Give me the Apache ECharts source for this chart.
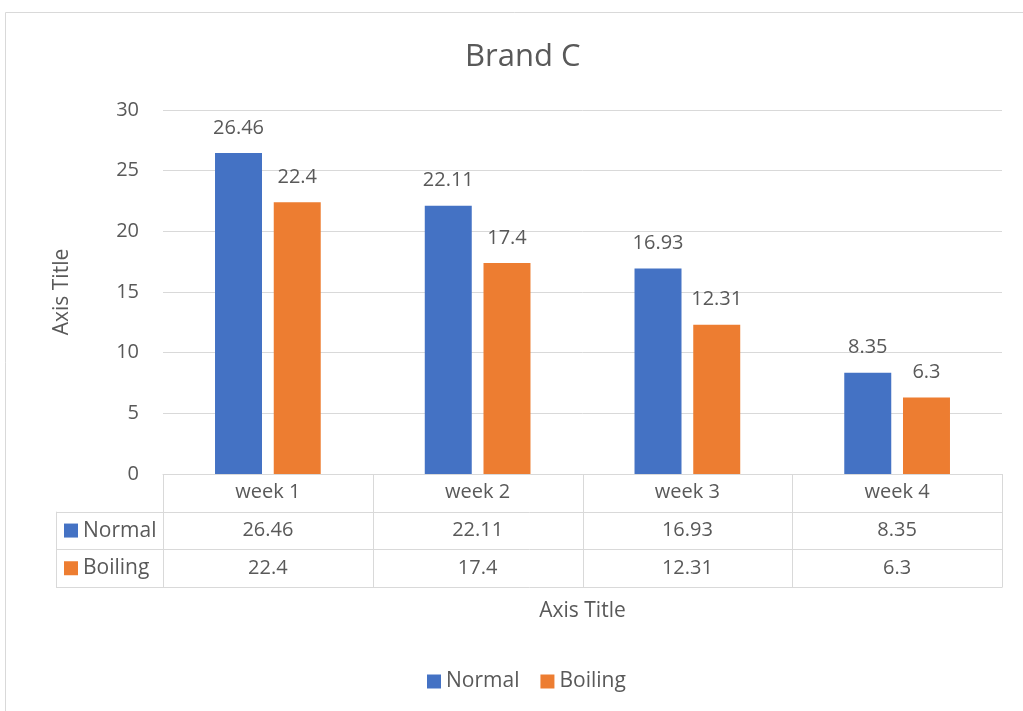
<!DOCTYPE html>
<html>
<head>
<meta charset="utf-8">
<script src="https://cdn.jsdelivr.net/npm/echarts@6/dist/echarts.min.js"></script>
<style>
  html, body { margin: 0; padding: 0; background: #fff; }
  #chart { width: 1023px; height: 711px; }
</style>
</head>
<body>
<div id="chart"></div>
<script>
// Weekly measurements for Brand C
const categories = ['week 1', 'week 2', 'week 3', 'week 4'];
const normalValues = [26.46, 22.11, 16.93, 8.35];
const boilingValues = [22.4, 17.4, 12.31, 6.3];
const seriesNames = ['Normal', 'Boiling'];
const yTicks = [0, 5, 10, 15, 20, 25, 30];

const FONT = '"Open Sans", "Noto Sans", sans-serif';
const FS_TEXT = 21;   // words: axis titles, legend, table headers
const FS_NUM = 20;    // numbers: ticks, value labels, table cells
const TEXT = '#595959';
const LINE = '#d9d9d9';
const COLORS = ['#4472C4', '#ED7D31'];

const W = 1023, H = 711;
const gridLeft = 163, gridRight = 21, gridTop = 110, gridBottom = 237;
const rowH = 37.7;

const chart = echarts.init(document.getElementById('chart'), null, { renderer: 'canvas' });

const textStyle = { fontFamily: FONT, fontSize: FS_TEXT, color: TEXT };
const numStyle = { fontFamily: FONT, fontSize: FS_NUM, color: TEXT };

const option = {
  animation: false,
  backgroundColor: '#fff',
  textStyle: { fontFamily: FONT },
  title: {
    text: 'Brand C',
    left: 465,
    top: 42,
    padding: 0,
    textStyle: { fontFamily: FONT, fontSize: 31, fontWeight: 'normal', color: TEXT }
  },
  legend: {
    data: seriesNames,
    bottom: 19,
    left: 427,
    padding: 0,
    icon: 'rect',
    itemWidth: 14,
    itemHeight: 14,
    itemGap: 21,
    textStyle: textStyle
  },
  grid: { left: gridLeft, right: gridRight, top: gridTop, bottom: gridBottom },
  xAxis: {
    type: 'category',
    data: categories,
    axisLine: { show: true, lineStyle: { color: LINE, width: 1 } },
    axisTick: { show: false },
    axisLabel: Object.assign({ margin: 8 }, numStyle),
    name: 'Axis Title',
    nameLocation: 'middle',
    nameGap: 127,
    nameTextStyle: textStyle
  },
  yAxis: {
    type: 'value',
    min: yTicks[0],
    max: yTicks[yTicks.length - 1],
    interval: yTicks[1] - yTicks[0],
    axisLine: { show: false },
    axisTick: { show: false },
    splitLine: { lineStyle: { color: LINE, width: 1 } },
    axisLabel: Object.assign({ margin: 24 }, numStyle),
    name: 'Axis Title',
    nameLocation: 'middle',
    nameGap: 90,
    nameTextStyle: textStyle
  },
  series: [
    {
      name: seriesNames[0],
      type: 'bar',
      data: normalValues,
      barWidth: '22.4%',
      barGap: '25%',
      itemStyle: { color: COLORS[0] },
      label: Object.assign({ show: true, position: 'top', distance: 15 }, numStyle)
    },
    {
      name: seriesNames[1],
      type: 'bar',
      data: boilingValues,
      barWidth: '22.4%',
      barGap: '25%',
      itemStyle: { color: COLORS[1] },
      label: Object.assign({ show: true, position: 'top', distance: 15 }, numStyle)
    }
  ]
};

chart.setOption(option);

// Data table drawn beneath the plot, aligned to the category bands
function buildTable() {
  const plotBottom = H - gridBottom;
  const plotRight = W - gridRight;
  const band = (plotRight - gridLeft) / categories.length;
  const tableLeft = 56;
  const els = [];
  const line = (x1, y1, x2, y2) => els.push({
    type: 'line', silent: true,
    shape: { x1, y1, x2, y2 },
    style: { stroke: LINE, lineWidth: 1 }
  });

  // vertical lines of the category columns
  for (let i = 0; i <= categories.length; i++) {
    const x = Math.round(gridLeft + i * band) + 0.5;
    line(x, plotBottom, x, plotBottom + rowH * 3);
  }
  // left edge of the series-name column
  line(tableLeft + 0.5, plotBottom + rowH, tableLeft + 0.5, plotBottom + rowH * 3);
  // horizontal row separators
  for (let r = 1; r <= 3; r++) {
    const y = Math.round(plotBottom + rowH * r) + 0.5;
    line(tableLeft, y, plotRight + 0.5, y);
  }

  const rows = [normalValues, boilingValues];
  rows.forEach((vals, r) => {
    const cy = plotBottom + rowH * (r + 1.5);
    // legend key + series name
    els.push({
      type: 'rect', silent: true,
      shape: { x: tableLeft + 8, y: cy - 7, width: 14, height: 14 },
      style: { fill: COLORS[r] }
    });
    els.push({
      type: 'text', silent: true,
      x: tableLeft + 27, y: cy,
      style: { text: seriesNames[r], font: FS_TEXT + 'px ' + FONT, fill: TEXT, verticalAlign: 'middle', align: 'left' }
    });
    vals.forEach((v, i) => {
      const cx = chart.convertToPixel({ xAxisIndex: 0 }, categories[i]);
      els.push({
        type: 'text', silent: true,
        x: cx, y: cy,
        style: { text: String(v), font: FS_NUM + 'px ' + FONT, fill: TEXT, align: 'center', verticalAlign: 'middle' }
      });
    });
  });

  // outer chart frame
  els.push({
    type: 'rect', silent: true,
    shape: { x: 5.5, y: 12.5, width: W + 20, height: H + 20 },
    style: { fill: 'none', stroke: LINE, lineWidth: 1 }
  });

  chart.setOption({ graphic: { elements: els } });
}

buildTable();
</script>
</body>
</html>
